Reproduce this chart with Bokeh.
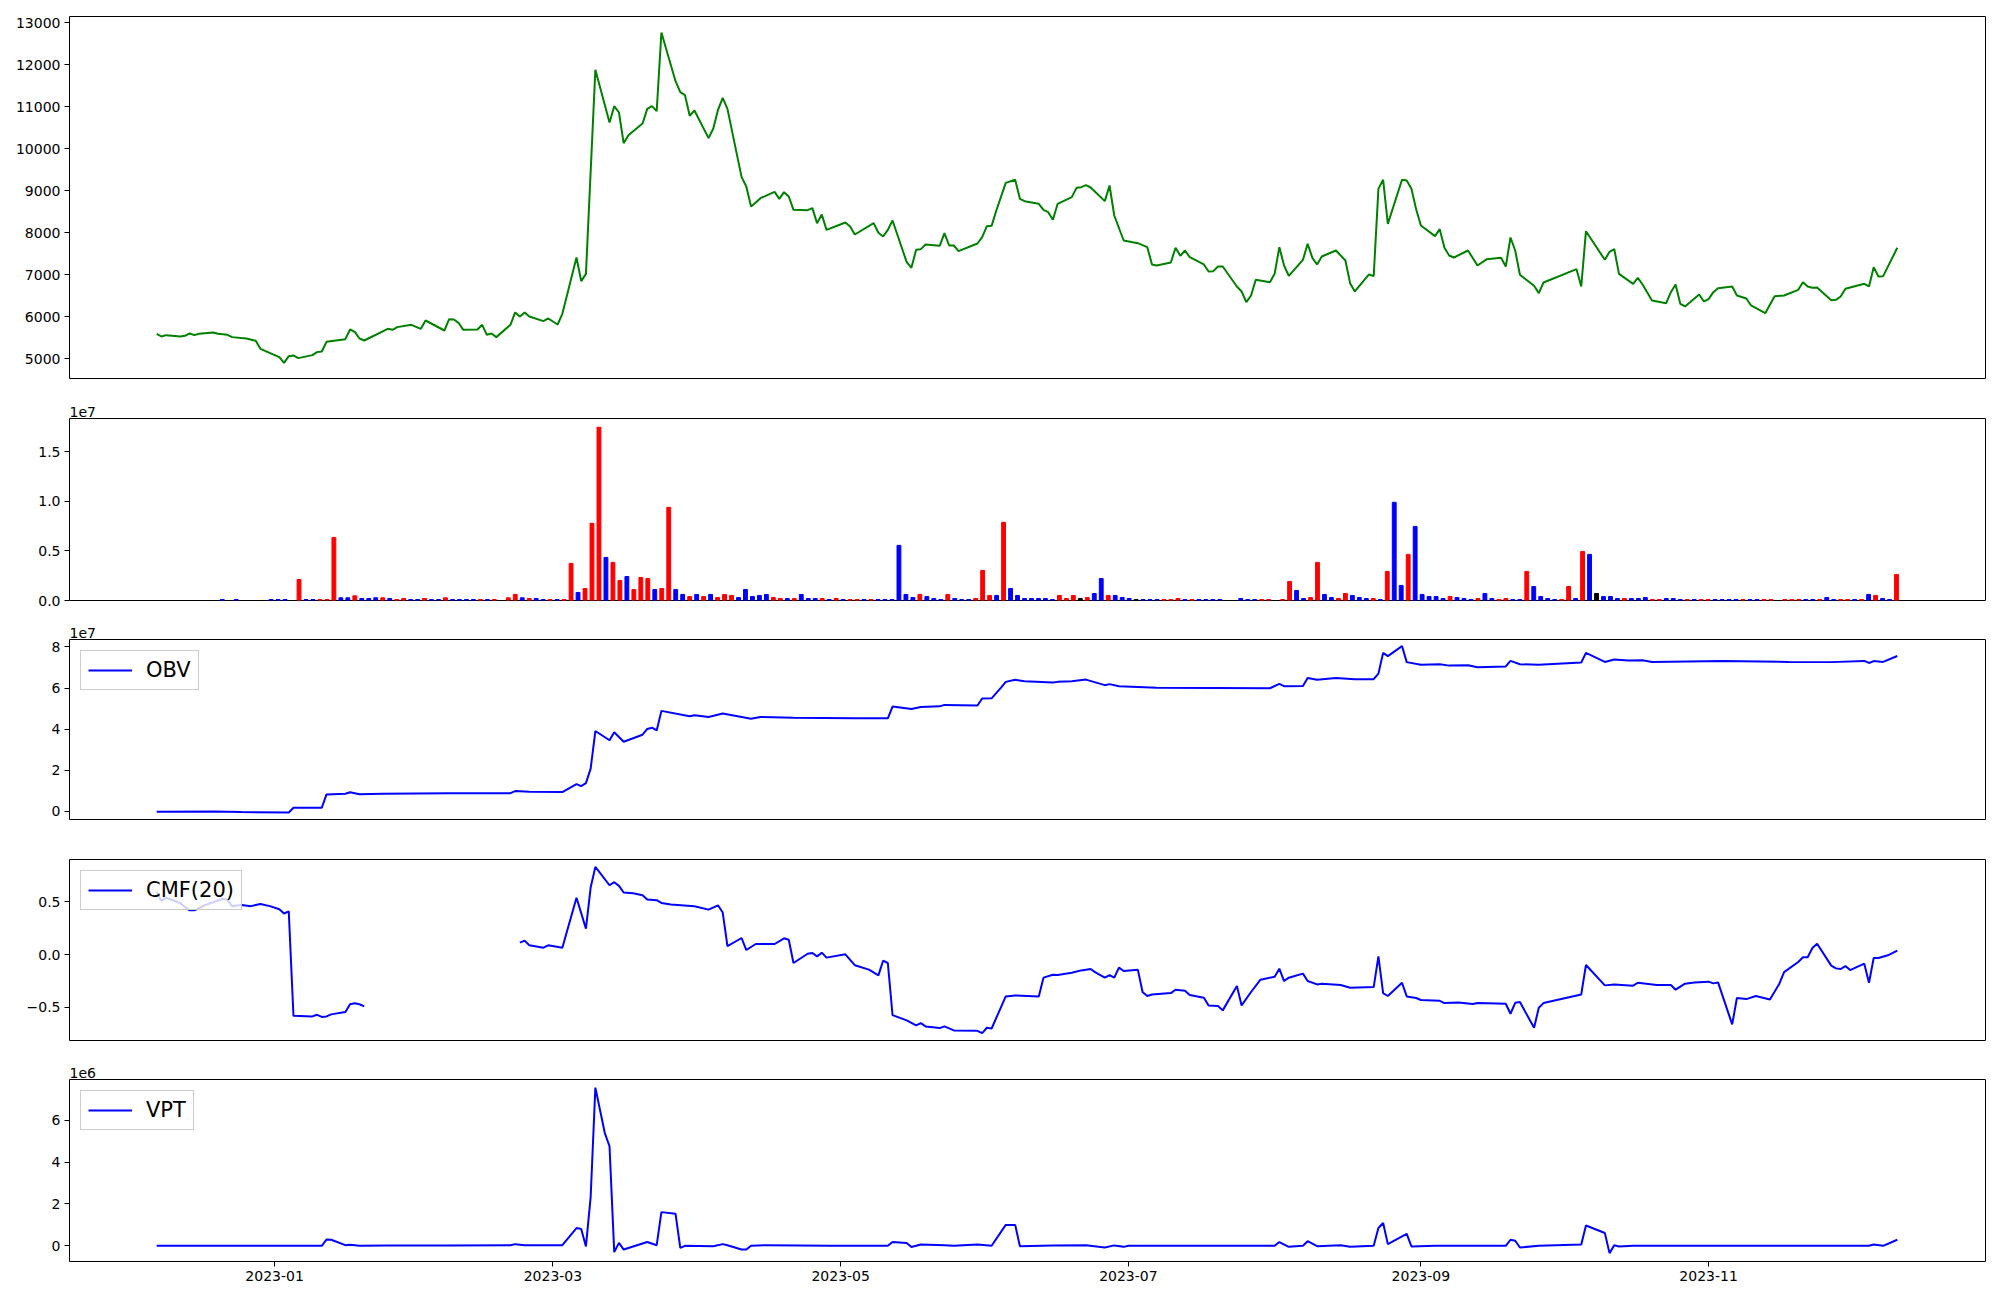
from datetime import datetime
import numpy as np
import pandas as pd
from bokeh.plotting import figure
from bokeh.layouts import column
from bokeh.models import (ColumnDataSource, Range1d, FixedTicker, MonthsTicker,
                          DatetimeTickFormatter, CustomJSTickFormatter, Legend, LegendItem)
from bokeh.embed import file_html
from bokeh.resources import INLINE

# ---------------------------------------------------------------- data
# x values of the line series are given as days since 2023-01-01
BASE_DATE = "2023-01-01"

price_day = [-25, -24, -23, -20, -19, -18, -17, -16, -13, -12, -10, -9, -6, -4, -3,
             1, 2, 3, 4, 5, 8, 9, 10, 11, 15, 16, 17, 18, 19, 24, 25, 26, 29,
             31, 32, 36, 37, 38, 39, 40, 43, 44, 45, 46, 47, 50, 51, 52, 53, 54, 57, 58,
             60, 61, 64, 65, 66, 68, 71, 72, 73, 74, 75, 78, 79, 80, 81, 82, 85, 86, 87, 88, 89,
             92, 93, 94, 95, 96, 99, 100, 101, 102, 103, 106, 107, 108, 109, 110, 113, 114, 115, 116, 117,
             121, 122, 123, 127, 128, 129, 130, 131, 134, 135, 136, 137, 138, 141, 142, 143, 144, 145, 149, 150,
             151, 152, 153, 155, 157, 158, 159, 162, 163, 164, 165, 166, 169, 170, 171, 172, 173, 176, 177, 178, 180,
             183, 185, 186, 187, 190, 191, 192, 193, 194, 197, 198, 199, 200, 201, 204, 205, 206, 207, 208, 211,
             212, 213, 214, 215, 218, 219, 220, 221, 222, 225, 227, 228, 229, 232, 233, 234, 235, 236, 239, 240, 241, 242,
             243, 246, 247, 248, 249, 250, 253, 255, 257, 260, 261, 262, 263, 264, 267, 268, 269,
             276, 277, 278, 282, 283, 284, 285, 288, 289, 290, 292, 295, 296, 297, 298, 299, 302, 303,
             304, 305, 306, 309, 310, 312, 313, 316, 318, 320, 323, 324, 325, 326, 327, 330, 331, 332, 333,
             337, 338, 339, 340, 341, 344]
price_close = [5595, 5531, 5563, 5531, 5547, 5603, 5563, 5595, 5627, 5595, 5571, 5516, 5484, 5428, 5238,
               5039, 4904, 5063, 5079, 5016, 5087, 5159, 5174, 5404, 5468, 5698, 5642, 5484, 5436, 5714, 5690, 5754, 5809,
               5714, 5912, 5674, 5944, 5936, 5857, 5690, 5698, 5809, 5571, 5603, 5516, 5809, 6103, 6008, 6103, 6008, 5897, 5960,
               5817, 6071, 7412, 6849, 7023, 11881, 10627, 11016, 10865, 10135, 10325, 10603, 10952, 11016, 10897, 12770, 11611, 11349, 11278, 10786, 10913,
               10254, 10484, 10928, 11214, 10952, 9325, 9103, 8627, 8722, 8825, 8976, 8809, 8968, 8865, 8547, 8539, 8587, 8230, 8436, 8071,
               8246, 8150, 7960, 8230, 8000, 7913, 8071, 8293, 7301, 7166, 7595, 7611, 7722, 7690, 7992, 7698, 7698, 7563, 7746, 7897,
               8158, 8166, 8531, 9190, 9262, 8809, 8754, 8690, 8547, 8492, 8309, 8690, 8849, 9071, 9087, 9135, 9079, 8754, 9127, 8412, 7817,
               7754, 7658, 7246, 7222, 7294, 7643, 7452, 7579, 7420, 7246, 7079, 7087, 7198, 7198, 6722, 6603, 6349, 6508, 6881, 6825,
               7024, 7658, 7222, 6976, 7357, 7738, 7404, 7246, 7436, 7579, 7341, 6801, 6603, 7008, 6968, 9047, 9262, 8214, 9262, 9246, 9047, 8563,
               8174, 7920, 8087, 7643, 7460, 7412, 7579, 7222, 7373, 7404, 7198, 7889, 7579, 7000, 6738, 6563, 6817,
               7135, 6722, 8039, 7357, 7547, 7611, 7023, 6785, 6928, 6769, 6389, 6325, 6587, 6769, 6309, 6246, 6531, 6365,
               6420, 6587, 6682, 6722, 6508, 6436, 6270, 6087, 6492, 6508, 6642, 6825, 6722, 6690, 6698, 6396, 6404, 6484, 6666,
               6785, 6722, 7182, 6960, 6968, 7643]

# daily volume, in millions, one bar per trading session (250 sessions)
volume_millions = [
    0, 0, 0, 0, 0, 0, 0, 0, 0, 0.1,
    0, 0.1, 0, 0, 0, 0, 0.1, 0.1, 0.1, 0,
    2.12, 0.1, 0.1, 0.1, 0.1, 6.36, 0.27, 0.27, 0.47, 0.2,
    0.2, 0.27, 0.27, 0.2, 0.1, 0.2, 0.1, 0.1, 0.2, 0.1,
    0.1, 0.27, 0.1, 0.1, 0.1, 0.1, 0.1, 0.1, 0.1, 0,
    0.27, 0.61, 0.27, 0.2, 0.2, 0.1, 0.1, 0.1, 0.1, 3.74,
    0.81, 1.21, 7.78, 17.47, 4.34, 3.84, 2.02, 2.42, 1.11, 2.32,
    2.22, 1.11, 1.21, 9.39, 1.11, 0.61, 0.4, 0.61, 0.4, 0.61,
    0.3, 0.61, 0.51, 0.3, 1.11, 0.4, 0.51, 0.61, 0.3, 0.2,
    0.2, 0.2, 0.61, 0.2, 0.2, 0.2, 0.1, 0.2, 0.1, 0.1,
    0.1, 0.1, 0.1, 0.1, 0.1, 0.1, 5.56, 0.61, 0.3, 0.61,
    0.4, 0.2, 0.1, 0.61, 0.2, 0.1, 0.1, 0.2, 3.03, 0.51,
    0.51, 7.88, 1.21, 0.51, 0.2, 0.2, 0.2, 0.2, 0.1, 0.51,
    0.2, 0.51, 0.2, 0.3, 0.71, 2.22, 0.51, 0.51, 0.3, 0.2,
    0.1, 0.1, 0.1, 0.1, 0.1, 0.1, 0.2, 0.1, 0.1, 0.1,
    0.1, 0.1, 0.1, 0, 0, 0.2, 0.1, 0.1, 0.1, 0.1,
    0, 0.1, 1.92, 1.01, 0.2, 0.3, 3.84, 0.61, 0.3, 0.2,
    0.71, 0.51, 0.3, 0.2, 0.2, 0.1, 2.93, 9.9, 1.52, 4.65,
    7.47, 0.61, 0.4, 0.4, 0.2, 0.4, 0.3, 0.2, 0.1, 0.2,
    0.71, 0.2, 0.1, 0.2, 0.1, 0.1, 2.93, 1.41, 0.4, 0.2,
    0.1, 0.1, 1.41, 0.2, 4.95, 4.65, 0.71, 0.4, 0.4, 0.2,
    0.2, 0.2, 0.2, 0.3, 0.1, 0.1, 0.2, 0.2, 0.1, 0.1,
    0.1, 0.1, 0.1, 0.1, 0.1, 0.1, 0.1, 0.1, 0.1, 0.1,
    0.1, 0.1, 0, 0.1, 0.1, 0.1, 0.1, 0.1, 0.1, 0.3,
    0.1, 0.1, 0.1, 0.1, 0.1, 0.61, 0.51, 0.2, 0.1, 2.63,
]
# session direction: u = close up, d = close down, f = unchanged
volume_direction = "".join([
    "fffffffffd", "fdffffdddf", "udduuuddud", "dduduuddud", "dudddduduf",
    "uududduduu", "duuuduuduu", "uduuddudud", "uuuddddduu", "dudddududu",
    "ududdddddu", "ddduddduuu", "dudddddddu", "uufudduddd", "fddduuudud",
    "dddffddduu", "fuudduuddu", "udddududdu", "dddddudddu", "dduudduddd",
    "duududfddd", "uddduudddu", "duuddddudd", "uufuuuddud", "duudududdu",
])

# On-Balance Volume (units of 1e7)
obv_day = [-25, -13, -7, 3, 4, 10, 11, 15, 16, 18, 23, 37, 50, 51, 54, 61, 64, 65, 66, 67,
           68, 71, 72, 74, 76, 78, 79, 80, 81, 82, 88, 89, 92, 95, 97, 101, 103, 110, 123, 130,
           131, 135, 137, 141, 142, 149, 150, 152, 154, 155, 157, 159, 165, 166, 169, 172, 176, 177, 179, 187,
           211, 213, 214, 218, 219, 221, 225, 229, 233, 234, 235, 236, 239, 240, 243, 247, 249, 253, 255, 261,
           262, 264, 268, 277, 278, 282, 284, 287, 290, 292, 307, 321, 330, 337, 338, 339, 341, 344]
obv_e7 = [-0.02, 0.0, -0.03, -0.05, 0.18, 0.18, 0.83, 0.86, 0.93, 0.84, 0.86, 0.89, 0.89, 0.99, 0.96, 0.94, 1.33, 1.23, 1.38, 2.08,
          3.91, 3.46, 3.85, 3.39, 3.56, 3.73, 4.01, 4.07, 3.94, 4.89, 4.63, 4.68, 4.59, 4.76, 4.68, 4.51, 4.59, 4.56, 4.53, 4.53,
          5.10, 4.98, 5.08, 5.11, 5.18, 5.15, 5.49, 5.50, 6.02, 6.30, 6.40, 6.33, 6.27, 6.30, 6.33, 6.41, 6.14, 6.19, 6.09, 6.02,
          5.99, 6.20, 6.09, 6.10, 6.49, 6.40, 6.49, 6.43, 6.43, 6.70, 7.71, 7.55, 8.04, 7.26, 7.13, 7.16, 7.09, 7.11, 7.01, 7.05,
          7.32, 7.16, 7.13, 7.24, 7.71, 7.27, 7.39, 7.34, 7.35, 7.27, 7.31, 7.27, 7.26, 7.32, 7.22, 7.31, 7.27, 7.56]

# Chaikin Money Flow, 20 sessions (NaN = not defined)
cmf_day = [-25, -24, -23, -20, -19, -18, -17, -15, -11, -10,
           -9, -7, -5, -4, -3, -1, 1, 2, 3, 4,
           8, 9, 10, 11, 12, 15, 16, 17, 18, 19,
           36, 52, 53, 54, 57, 58, 61, 64, 66, 67,
           68, 71, 72, 73, 74, 76, 78, 79, 81, 82,
           84, 89, 92, 94, 95, 96, 99, 100, 102, 106,
           108, 109, 110, 113, 114, 115, 116, 117, 121, 123,
           126, 128, 129, 130, 131, 134, 136, 137, 138, 141,
           142, 144, 149, 150, 151, 152, 155, 157, 162, 163,
           165, 166, 169, 171, 173, 174, 176, 177, 178, 179,
           180, 183, 184, 185, 186, 190, 191, 193, 194, 197,
           198, 200, 201, 204, 205, 207, 209, 212, 213, 214,
           215, 218, 219, 221, 222, 226, 228, 233, 234, 235,
           236, 239, 240, 242, 243, 247, 248, 251, 254, 255,
           261, 262, 263, 264, 267, 268, 269, 277, 278, 282,
           284, 288, 289, 293, 296, 297, 299, 301, 304, 305,
           306, 309, 310, 312, 314, 317, 319, 320, 323, 324,
           325, 326, 327, 330, 331, 332, 333, 334, 337, 338,
           339, 340, 342, 344]
cmf_20 = [0.595, 0.51, 0.54, 0.49, 0.45, 0.42, 0.42, 0.465, 0.53, 0.52,
          0.46, 0.47, 0.46, 0.47, 0.48, 0.46, 0.43, 0.39, 0.41, -0.58,
          -0.585, -0.57, -0.59, -0.585, -0.566, -0.544, -0.47, -0.46, -0.47, -0.49,
          np.nan, 0.114, 0.133, 0.089, 0.066, 0.089, 0.066, 0.54, 0.247, 0.636,
          0.832, 0.658, 0.687, 0.652, 0.589, 0.582, 0.563, 0.522, 0.516, 0.49,
          0.475, 0.459, 0.427, 0.468, 0.399, 0.082, 0.158, 0.044, 0.101, 0.101,
          0.155, 0.142, -0.079, 0.009, 0.016, -0.016, 0.019, -0.028, 0.003, -0.10,
          -0.142, -0.196, -0.057, -0.079, -0.573, -0.623, -0.671, -0.649, -0.68, -0.696,
          -0.68, -0.718, -0.722, -0.744, -0.693, -0.70, -0.396, -0.386, -0.396, -0.218,
          -0.19, -0.193, -0.171, -0.149, -0.136, -0.168, -0.218, -0.193, -0.218, -0.123,
          -0.155, -0.142, -0.354, -0.392, -0.377, -0.364, -0.332, -0.342, -0.383, -0.408,
          -0.481, -0.487, -0.528, -0.297, -0.481, -0.354, -0.237, -0.209, -0.133, -0.25,
          -0.218, -0.18, -0.25, -0.282, -0.275, -0.288, -0.313, -0.307, -0.016, -0.364,
          -0.392, -0.266, -0.396, -0.411, -0.43, -0.437, -0.459, -0.453, -0.468, -0.459,
          -0.465, -0.56, -0.456, -0.449, -0.693, -0.503, -0.459, -0.377, -0.098, -0.291,
          -0.282, -0.294, -0.266, -0.288, -0.288, -0.332, -0.275, -0.263, -0.256, -0.272,
          -0.263, -0.661, -0.411, -0.421, -0.392, -0.424, -0.275, -0.165, -0.07, -0.025,
          -0.025, 0.063, 0.104, -0.104, -0.13, -0.136, -0.108, -0.146, -0.085, -0.266,
          -0.032, -0.032, -0.006, 0.038]

# Volume-Price Trend (units of 1e6)
vpt_day = [-25, 3, 10, 11, 12, 15, 16, 18, 24, 37,
           50, 51, 53, 61, 64, 65, 66, 67, 68, 70,
           71, 72, 73, 74, 79, 81, 82, 85, 86, 87,
           93, 95, 96, 99, 100, 101, 104, 118, 130, 131,
           134, 135, 137, 142, 144, 149, 152, 155, 157, 158,
           165, 172, 176, 178, 180, 181, 212, 213, 215, 218,
           219, 221, 226, 228, 233, 234, 235, 236, 240, 241,
           246, 261, 262, 263, 264, 268, 277, 278, 282, 283,
           284, 285, 288, 300, 338, 339, 341, 344]
vpt_e6 = [0, 0, 0, 0.30, 0.29, 0.03, 0.05, 0, 0.02, 0.02,
          0.03, 0.08, 0.03, 0.03, 0.85, 0.80, -0.03, 2.33, 7.56, 5.39,
          4.76, -0.30, 0.14, -0.18, 0.18, 0.03, 1.61, 1.53, -0.10, 0,
          -0.02, 0.08, 0.03, -0.18, -0.18, 0, 0.03, 0, 0, 0.18,
          0.13, -0.06, 0.06, 0.03, 0, 0.06, 0, 1.0, 1.0, -0.02,
          0.02, 0.03, -0.08, 0.02, -0.05, 0, 0, 0.18, -0.05, 0,
          0.22, -0.02, 0.03, -0.05, 0, 0.85, 1.09, 0.08, 0.57, -0.03,
          0, 0, 0.29, 0.24, -0.08, 0, 0.06, 0.97, 0.61, -0.35,
          0.03, -0.03, 0, 0, 0, 0.06, 0, 0.29]

# tick values
price_ticks = [5000, 6000, 7000, 8000, 9000, 10000, 11000, 12000, 13000]
volume_ticks = [0, 0.5e7, 1.0e7, 1.5e7]
obv_ticks = [0, 2e7, 4e7, 6e7, 8e7]
cmf_ticks = [-0.5, 0.0, 0.5]
vpt_ticks = [0, 2e6, 4e6, 6e6]

assert len(price_day) == len(price_close)
assert len(obv_day) == len(obv_e7)
assert len(cmf_day) == len(cmf_20)
assert len(vpt_day) == len(vpt_e6)
assert len(volume_millions) == len(volume_direction) == 250

# ---------------------------------------------------------------- helpers
FONT = "DejaVu Sans"
base = pd.Timestamp(BASE_DATE)


def to_dates(days):
    return base + pd.to_timedelta(np.asarray(days, dtype=float), unit="D")


DIR_COLOR = {"u": "#ff0000", "d": "#0000ff", "f": "#000000"}

date_range = Range1d(start=datetime(2022, 11, 18, 12, 29), end=datetime(2023, 12, 29, 16, 48))
FRAME_W = 1916


def make_fig(frame_h, top, bottom, x_range, y_range, x_axis=False, x_type="datetime"):
    p = figure(frame_width=FRAME_W, frame_height=frame_h, x_range=x_range, y_range=y_range,
               x_axis_type=x_type, x_axis_location="below" if x_axis else None,
               output_backend="svg", toolbar_location=None,
               min_border_left=69, min_border_right=7, min_border_top=top, min_border_bottom=bottom)
    p.grid.visible = False
    p.outline_line_color = "black"
    p.outline_line_alpha = 1.0
    p.outline_line_width = 1
    p.background_fill_color = "white"
    p.border_fill_color = "white"
    for ax in p.axis:
        ax.axis_line_color = None
        ax.major_tick_out = 5
        ax.major_tick_in = 0
        ax.major_tick_line_color = "black"
        ax.minor_tick_line_color = None
        ax.major_label_text_font = FONT
        ax.major_label_text_font_size = "14px"
        ax.major_label_text_color = "black"
        ax.major_label_standoff = 4
    return p


def set_multiplier_title(p, text):
    p.title.text = text
    p.title.align = "left"
    p.title.text_font = FONT
    p.title.text_font_size = "14px"
    p.title.text_font_style = "normal"
    p.title.text_color = "black"
    p.title.standoff = 3
    p.title.offset = 0


def add_legend(p, renderer, label):
    leg = Legend(items=[LegendItem(label=label, renderers=[renderer])], location="top_left",
                 label_text_font=FONT, label_text_font_size="21px", label_text_color="black",
                 glyph_width=44, glyph_height=24, label_height=24, label_standoff=14,
                 padding=7, margin=11, spacing=0,
                 border_line_color="#cccccc", border_line_width=1, border_line_alpha=1.0,
                 background_fill_color="white", background_fill_alpha=0.8)
    p.add_layout(leg)


# ---------------------------------------------------------------- panel 1: price
p1 = make_fig(363, 16, 0, date_range, Range1d(4507, 13151))
p1.line(x="date", y="close", source=ColumnDataSource(dict(date=to_dates(price_day), close=price_close)),
        line_color="#008000", line_width=2)
p1.yaxis.ticker = FixedTicker(ticks=price_ticks)

# ---------------------------------------------------------------- panel 2: volume bars
n_bars = len(volume_millions)
vol_src = ColumnDataSource(dict(
    session=list(range(n_bars)),
    volume=[v * 1e6 for v in volume_millions],
    color=[DIR_COLOR[c] for c in volume_direction],
))
p2 = make_fig(182, 39, 10, Range1d(-12.9, 261.76), Range1d(0, 1.835e7), x_type="linear")
p2.vbar(x="session", top="volume", width=0.55, color="color", source=vol_src)
p2.yaxis.ticker = FixedTicker(ticks=volume_ticks)
p2.yaxis.formatter = CustomJSTickFormatter(code="return (tick/1e7).toFixed(1);")
set_multiplier_title(p2, "1e7")

# ---------------------------------------------------------------- panel 3: OBV
p3 = make_fig(181, 29, 0, date_range, Range1d(-0.44e7, 8.36e7))
r3 = p3.line(x="date", y="obv", source=ColumnDataSource(dict(date=to_dates(obv_day), obv=[v * 1e7 for v in obv_e7])),
             line_color="#0000ff", line_width=2)
p3.yaxis.ticker = FixedTicker(ticks=obv_ticks)
p3.yaxis.formatter = CustomJSTickFormatter(code="return (tick/1e7).toFixed(0);")
set_multiplier_title(p3, "1e7")
add_legend(p3, r3, "OBV")

# ---------------------------------------------------------------- panel 4: CMF
p4 = make_fig(182, 39, 0, date_range, Range1d(-0.823, 0.902))
r4 = p4.line(x="date", y="cmf", source=ColumnDataSource(dict(date=to_dates(cmf_day), cmf=cmf_20)),
             line_color="#0000ff", line_width=2)
p4.yaxis.ticker = FixedTicker(ticks=cmf_ticks)
p4.yaxis.formatter = CustomJSTickFormatter(
    code="return tick < 0 ? '\\u2212' + (-tick).toFixed(1) : Math.abs(tick).toFixed(1);")
add_legend(p4, r4, "CMF(20)")

# ---------------------------------------------------------------- panel 5: VPT
p5 = make_fig(182, 38, 30, date_range, Range1d(-0.75e6, 7.95e6), x_axis=True)
r5 = p5.line(x="date", y="vpt", source=ColumnDataSource(dict(date=to_dates(vpt_day), vpt=[v * 1e6 for v in vpt_e6])),
             line_color="#0000ff", line_width=2)
p5.yaxis.ticker = FixedTicker(ticks=vpt_ticks)
p5.yaxis.formatter = CustomJSTickFormatter(code="return (tick/1e6).toFixed(0);")
p5.xaxis.ticker = MonthsTicker(months=[0, 2, 4, 6, 8, 10])
p5.xaxis.formatter = DatetimeTickFormatter(months="%Y-%m", days="%Y-%m", years="%Y-%m")
set_multiplier_title(p5, "1e6")
add_legend(p5, r5, "VPT")

layout = column(p1, p2, p3, p4, p5, spacing=0)

open("out.html", "w").write(file_html(layout, INLINE))
